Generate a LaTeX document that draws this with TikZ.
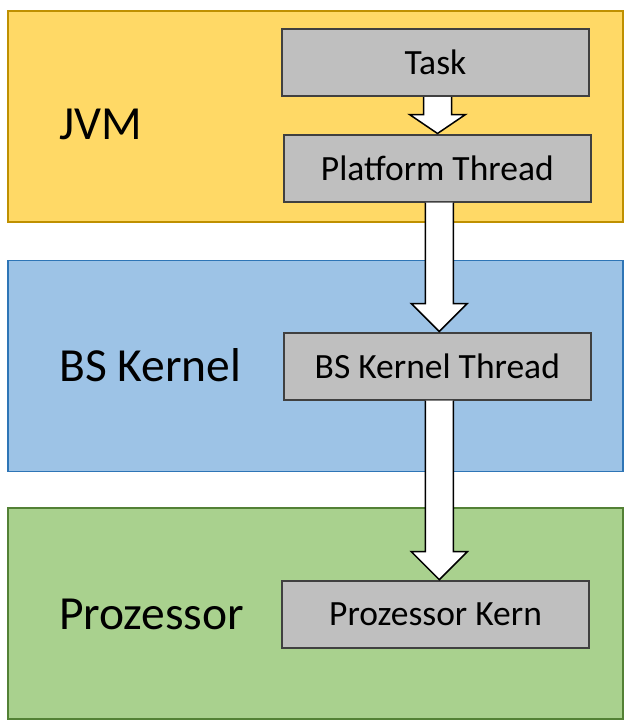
\documentclass[tikz,border=0pt]{standalone}
\usepackage{fontspec}
\setmainfont{Carlito}
\usetikzlibrary{calc}

\definecolor{jvmfill}{HTML}{FFD966}
\definecolor{jvmline}{HTML}{BF9000}
\definecolor{bsfill}{HTML}{9DC3E6}
\definecolor{bsline}{HTML}{2E75B6}
\definecolor{cpufill}{HTML}{A9D18E}
\definecolor{cpuline}{HTML}{538135}
\definecolor{boxfill}{HTML}{BFBFBF}
\definecolor{boxline}{HTML}{404040}

\tikzset{
  layer/.style = {rectangle, line width = 1.5pt, minimum width = 615pt, minimum height = 211pt, inner sep = 0pt},
  layerlabel/.style = {anchor = base west, inner sep = 0pt, font = \fontsize{47.5}{57}\selectfont},
  box/.style = {rectangle, draw = boxline, fill = boxfill, line width = 2pt, minimum width = 307pt, minimum height = 67pt, inner sep = 0pt, font = \fontsize{35.5}{42}\selectfont},
  blockarrow/.style = {draw = black, fill = white, line width = 1.5pt, line join = miter}
}

% white block arrow from the bottom of #1 down to the top of #2, head length #3
\newcommand{\blockarrow}[3]{%
  \coordinate (top) at ($(#1.south)+(2,0)$);
  \coordinate (tip) at ($(#1.south |- #2.north)+(2,0)$);
  \draw[blockarrow] ($(top)+(-14,0)$) -- ($(tip)+(-14,-#3)$) -- ($(tip)+(-28,-#3)$) -- (tip)
    -- ($(tip)+(28,-#3)$) -- ($(tip)+(14,-#3)$) -- ($(top)+(14,0)$);}

\begin{document}
\begin{tikzpicture}[x = 1pt, y = -1pt]

\useasboundingbox (0, 0) rectangle (631, 728);

\node[layer, draw = jvmline, fill = jvmfill] (jvm) at (315.25, 116.25) {};
\node[layer, draw = bsline, fill = bsfill] (bs) at (315.25, 366) {};
\node[layer, draw = cpuline, fill = cpufill] (cpu) at (315.25, 613.5) {};

\node[layerlabel] (jvmlabel) at (59, 139.3) {JVM};
\node[layerlabel] (bslabel) at (59, 381.5) {BS Kernel};
\node[layerlabel] (cpulabel) at (59, 629.3) {Prozessor};

\node[box] (task) at (435.5, 62.5) {Task};
\node[box] (platform) at (437.3, 168) {Platform Thread};
\node[box] (bsthread) at (437.3, 366) {BS Kernel Thread};
\node[box] (core) at (435.5, 614.2) {Prozessor Kern};

\blockarrow{task}{platform}{19}
\blockarrow{platform}{bsthread}{28}
\blockarrow{bsthread}{core}{28}

\end{tikzpicture}
\end{document}
